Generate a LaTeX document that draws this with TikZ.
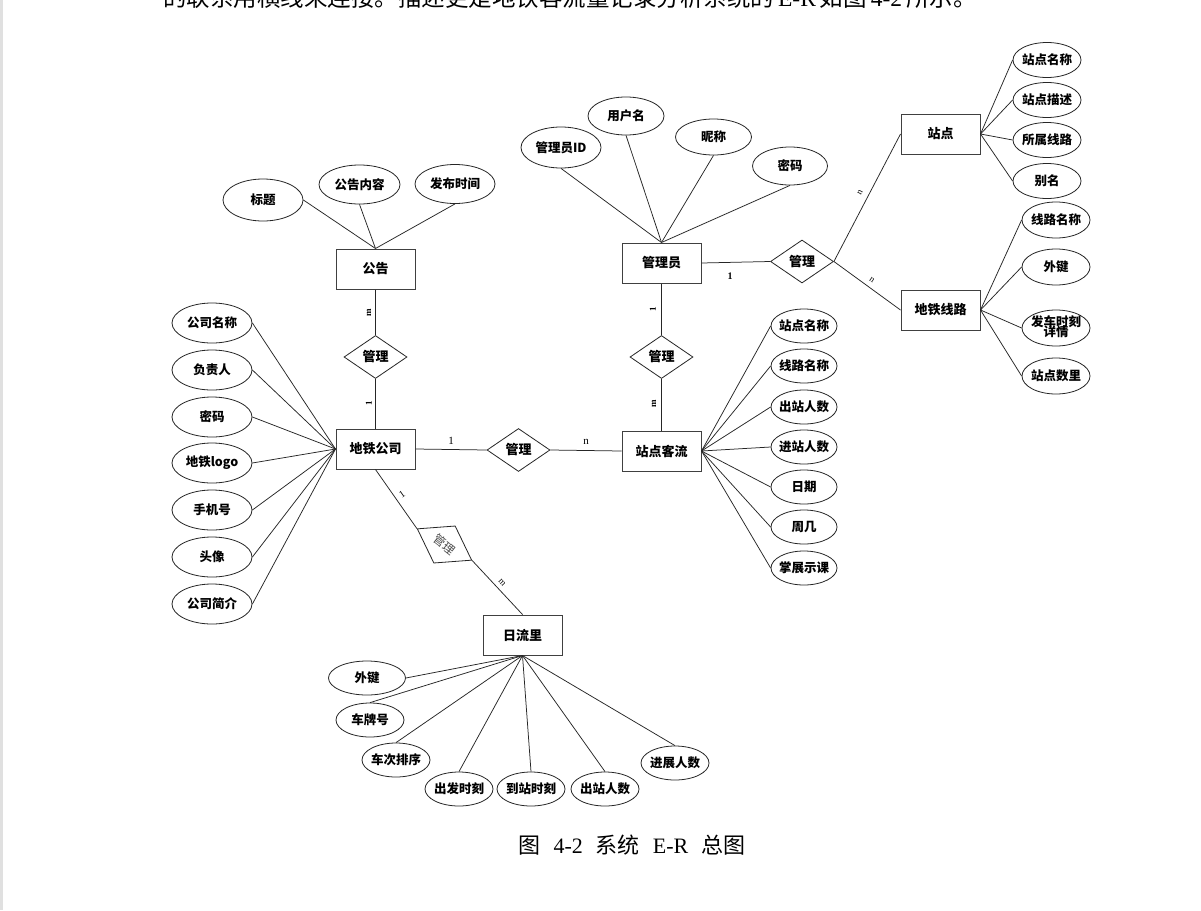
\documentclass[tikz,border=0pt]{standalone}
\usepackage{fontspec}
\setmainfont{Liberation Serif}
\newfontfamily\cjk{Noto Sans CJK SC}
\usetikzlibrary{shapes.geometric}
\newcommand\mk[1]{\makebox[0pt][c]{#1}}
\begin{document}
\begin{tikzpicture}[x=1pt,y=-1pt,
  ent/.style={draw=black!75, line width=1pt, rectangle, minimum width=79pt, minimum height=40pt, inner sep=0, font=\cjk\bfseries\fontsize{13}{13}\selectfont},
  att/.style={draw=black!85, line width=0.8pt, ellipse, inner sep=0, font=\cjk\bfseries\fontsize{12.5}{12.5}\selectfont},
  rel/.style={draw=black!85, line width=0.8pt, diamond, inner sep=0, minimum width=63pt, minimum height=43pt, font=\cjk\bfseries\fontsize{13}{13}\selectfont},
  lk/.style={line width=0.75pt, draw=black!85},
  card/.style={inner sep=0, font=\bfseries\fontsize{9}{9}\selectfont},
  cardr/.style={inner sep=0, font=\fontsize{11}{11}\selectfont},
]
\useasboundingbox (0,0) rectangle (1201,910);
\fill[white] (0,0) rectangle (1201,910);
\fill[black!12] (0,0) rectangle (3,910);

% top clipped text
\node[anchor=base west, inner sep=0, font=\cjk\fontsize{23.5}{23.5}\selectfont] (toptext) at (163,6) {的联系用横线来连接。描述更是地铁客流量记录分析系统的\,{\rmfamily E-R}\,如图\,{\rmfamily 4-2}\,所示。};

% entities
\node[ent] (gg) at (375.5,269) {公告};
\node[ent] (gly) at (661.5,263) {管理员};
\node[ent] (zd) at (940.5,134) {站点};
\node[ent] (xl) at (940.5,310) {地铁线路};
\node[ent] (gs) at (375.5,449) {地铁公司};
\node[ent] (kl) at (661.5,451) {站点客流};
\node[ent] (rl) at (522.5,635) {日流里};

% relationships
\node[rel] (r1) at (375.5,357) {管理};
\node[rel] (r2) at (661.5,357) {管理};
\node[rel] (r3) at (518.5,450) {管理};
\node[rel] (r4) at (802,261.5) {管理};
\node[rel, rotate=-30, text=black!70, font=\cjk\fontsize{12}{12}\selectfont] (r5) at (444.5,544.5) {\rotatebox{-8}{管理}};

% 公告 attributes
\node[att, minimum width=80pt, minimum height=42pt] (a1) at (263,200) {\mk{标题}};
\node[att, minimum width=81pt, minimum height=39pt] (a2) at (359.5,184.5) {\mk{公告内容}};
\node[att, minimum width=80pt, minimum height=39pt] (a3) at (455,184) {\mk{发布时间}};
\draw[lk] (a1.east) -- (gg.north);
\draw[lk] (a2.south) -- (gg.north);
\draw[lk] (a3.south) -- (gg.north);

% 管理员 attributes
\node[att, minimum width=80pt, minimum height=41pt] (b1) at (561,147.5) {\mk{管理员ID}};
\node[att, minimum width=76pt, minimum height=38pt] (b2) at (626,116) {\mk{用户名}};
\node[att, minimum width=76pt, minimum height=36pt] (b3) at (713.5,137) {\mk{昵称}};
\node[att, minimum width=75pt, minimum height=38pt] (b4) at (790,166) {\mk{密码}};
\foreach \n in {b1,b2,b3,b4} \draw[lk] (\n.south) -- (gly.north);

% 站点 attributes
\begin{scope}[every node/.append style={att, minimum width=68pt, minimum height=35pt}]
\node (c1) at (1047,60) {\mk{站点名称}};
\node (c2) at (1047,100) {\mk{站点描述}};
\node (c3) at (1047,140) {\mk{所属线路}};
\node (c4) at (1047,181) {\mk{别名}};
\end{scope}
\foreach \n in {c1,c2,c3,c4} \draw[lk] (\n.west) -- (zd.east);

% 地铁线路 attributes
\begin{scope}[every node/.append style={att, minimum width=68pt, minimum height=36pt}]
\node (d1) at (1056,220) {\mk{线路名称}};
\node (d2) at (1056,267) {\mk{外键}};
\node (d3) at (1056,328) {\mk{\begin{tabular}{@{}c@{}}发车时刻\\[-4pt]详情\end{tabular}}};
\node (d4) at (1056,376) {\mk{站点数里}};
\end{scope}
\foreach \n in {d1,d2,d3,d4} \draw[lk] (\n.west) -- (xl.east);

% 地铁公司 attributes
\begin{scope}[every node/.append style={att, minimum width=80pt, minimum height=40pt}]
\node (e1) at (212,323) {\mk{公司名称}};
\node (e2) at (212,370) {\mk{负责人}};
\node (e3) at (212,417) {\mk{密码}};
\node (e4) at (212,463) {\mk{地铁logo}};
\node (e5) at (212,510) {\mk{手机号}};
\node (e6) at (212,557) {\mk{头像}};
\node (e7) at (212,604) {\mk{公司简介}};
\end{scope}
\foreach \n in {e1,e2,e3,e4,e5,e6,e7} \draw[lk] (\n.east) -- (gs.west);

% 站点客流 attributes
\begin{scope}[every node/.append style={att, minimum width=66pt, minimum height=34pt}]
\node (f1) at (804,326) {\mk{站点名称}};
\node (f2) at (804,366) {\mk{线路名称}};
\node (f3) at (804,407) {\mk{出站人数}};
\node (f4) at (804,447) {\mk{进站人数}};
\node (f5) at (804,487) {\mk{日期}};
\node (f6) at (804,527) {\mk{周几}};
\node (f7) at (804,568) {\mk{掌展示课}};
\end{scope}
\foreach \n in {f1,f2,f3,f4,f5,f6,f7} \draw[lk] (\n.west) -- (kl.east);

% 日流里 attributes
\begin{scope}[every node/.append style={att, minimum width=68pt, minimum height=34pt}]
\node[minimum width=77pt] (g1) at (367,678) {\mk{外键}};
\node (g2) at (370,720) {\mk{车牌号}};
\node (g3) at (396,760) {\mk{车次排序}};
\node (g4) at (459,789) {\mk{出发时刻}};
\node (g5) at (531,789) {\mk{到站时刻}};
\node (g6) at (605,789) {\mk{出站人数}};
\node (g7) at (675,763) {\mk{进展人数}};
\end{scope}
\draw[lk] (g1.east) -- (rl.south);
\foreach \n in {g2,g3,g4,g5,g6,g7} \draw[lk] (\n.north) -- (rl.south);

% relationship connectors
\draw[lk] (gg.south) -- (r1.north);
\draw[lk] (r1.south) -- (gs.north);
\draw[lk] (gly.south) -- (r2.north);
\draw[lk] (r2.south) -- (kl.north);
\draw[lk] (gs.east) -- (r3.west);
\draw[lk] (r3.east) -- (kl.west);
\draw[lk] (gly.east) -- (r4.west);
\draw[lk] (r4.east) -- (zd.west);
\draw[lk] (r4.east) -- (xl.west);
\draw[lk] (gs.south) -- (r5.west);
\draw[lk] (r5.east) -- (rl.north);

% cardinalities
\node[card, rotate=90] (m1) at (369,313) {m};
\node[card, rotate=90] (o1) at (369,403) {1};
\node[card, rotate=90] (o2) at (653,309) {1};
\node[card, rotate=90] (m2) at (654,404) {m};
\node[cardr] (o3) at (451,441) {1};
\node[cardr] (n1) at (586,442) {n};
\node[card, font=\bfseries\fontsize{10}{10}\selectfont] (o4) at (730,276) {1};
\node[cardr, font=\fontsize{9}{9}\selectfont, rotate=62] (n2) at (860,193) {n};
\node[cardr, font=\fontsize{9}{9}\selectfont, rotate=-35] (n3) at (872,280) {n};
\node[cardr, font=\fontsize{10}{10}\selectfont, rotate=35] (o5) at (402,494) {1};
\node[cardr, font=\fontsize{9}{9}\selectfont, rotate=-48] (m3) at (502,583) {m};

% caption
\node[font=\cjk\fontsize{22}{22}\selectfont, inner sep=0] (cap) at (632,845) {图\hspace{13pt}{\rmfamily 4-2}\hspace{13pt}系统\hspace{13pt}{\rmfamily E-R}\hspace{13pt}总图};
\end{tikzpicture}
\end{document}
